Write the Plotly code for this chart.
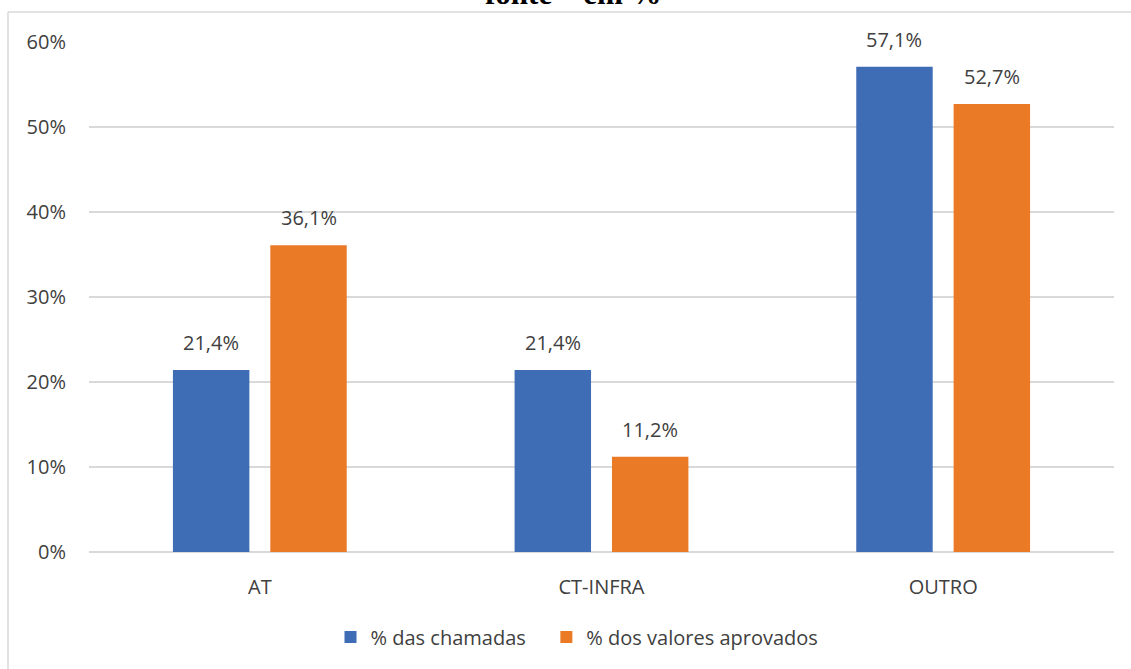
import plotly.graph_objects as go

categories = ["AT", "CT-INFRA", "OUTRO"]
pct_chamadas = [0.214, 0.214, 0.571]
pct_valores = [0.361, 0.112, 0.527]
series_names = ["% das chamadas", "% dos valores aprovados"]
tick_vals = [0, 0.1, 0.2, 0.3, 0.4, 0.5, 0.6]
title_text = "fonte – em %"

BLUE = "#3E6DB5"
ORANGE = "#EB7A27"
TEXT = "#404040"
GRID = "#D9D9D9"
FONT = "Open Sans"

W, H = 1131, 669
L, R, T, B = 89, 17, 42, 117
plot_w = W - L - R
plot_h = H - T - B


def px_to_paper_x(px):
    return (px - L) / plot_w


def px_to_paper_y(py):
    return (H - B - py) / plot_h


def fmt(v):
    return f"{v * 100:.1f}%".replace(".", ",")


# a little extra room after the first legend entry
legend_pad = "&nbsp;" * 3

fig = go.Figure()
fig.add_trace(go.Bar(x=categories, y=pct_chamadas,
                     name=series_names[0] + legend_pad,
                     marker=dict(color=BLUE, line=dict(width=0))))
fig.add_trace(go.Bar(x=categories, y=pct_valores, name=series_names[1],
                     marker=dict(color=ORANGE, line=dict(width=0))))

bargap = 0.43
bargroupgap = 0.215
slot = (1 - bargap) * plot_w / len(categories) / 2

annotations = []
for series, shift in ((pct_chamadas, -slot / 2), (pct_valores, slot / 2)):
    for cat, v in zip(categories, series):
        annotations.append(dict(
            x=cat, y=v, xref="x", yref="y", xshift=shift, yshift=12,
            text=fmt(v), showarrow=False, yanchor="bottom",
            font=dict(family=FONT, size=20, color=TEXT)))

# chart title, mostly above the top edge of the page
annotations.append(dict(
    x=px_to_paper_x(573), y=px_to_paper_y(13), xref="paper", yref="paper",
    text=f"<b>{title_text}</b>", showarrow=False,
    xanchor="center", yanchor="bottom",
    font=dict(family="Liberation Serif", size=31, color="#000000")))

# chart-area frame: left and top edges, running past the page edges
frame_left = px_to_paper_x(8)
frame_top = px_to_paper_y(12)
frame = [
    dict(type="line", xref="paper", yref="paper",
         x0=frame_left, x1=frame_left, y0=frame_top, y1=px_to_paper_y(700),
         line=dict(color=GRID, width=1.5), layer="below"),
    dict(type="line", xref="paper", yref="paper",
         x0=frame_left, x1=px_to_paper_x(1200), y0=frame_top, y1=frame_top,
         line=dict(color=GRID, width=1.5), layer="below"),
]

fig.update_layout(
    width=W, height=H,
    margin=dict(l=L, r=R, t=T, b=B, pad=0),
    paper_bgcolor="white", plot_bgcolor="white",
    barmode="group", bargap=bargap, bargroupgap=bargroupgap,
    font=dict(family=FONT, size=20, color=TEXT),
    showlegend=True,
    legend=dict(orientation="h", x=px_to_paper_x(577), xanchor="center",
                y=px_to_paper_y(637), yanchor="middle",
                font=dict(family=FONT, size=20, color=TEXT),
                itemclick=False, traceorder="normal"),
    annotations=annotations,
    shapes=frame,
)

fig.update_xaxes(showgrid=False, showline=False, zeroline=False,
                 ticks="", ticklabelstandoff=21,
                 tickfont=dict(family=FONT, size=20, color=TEXT))
fig.update_yaxes(range=[0, 0.6], tickvals=tick_vals, tickformat=".0%",
                 showgrid=True, gridcolor=GRID, gridwidth=1.5,
                 zeroline=True, zerolinecolor=GRID, zerolinewidth=1.5,
                 showline=False, ticks="", ticklabelstandoff=22,
                 tickfont=dict(family=FONT, size=20, color=TEXT))

fig.write_html("out.html")
